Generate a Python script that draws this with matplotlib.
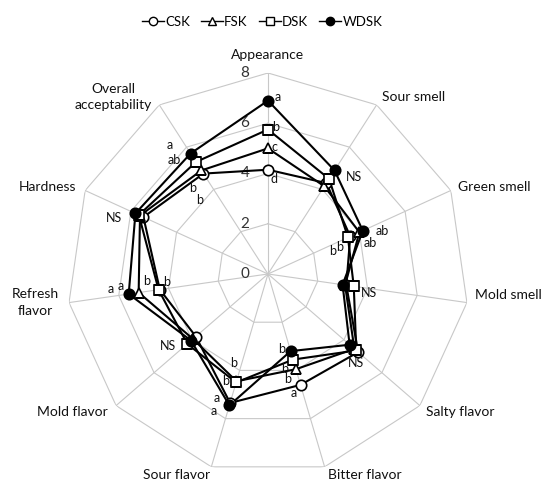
import numpy as np
import matplotlib
matplotlib.use("Agg")
import matplotlib.pyplot as plt
from matplotlib.lines import Line2D

plt.rcParams['font.family'] = ['Lato', 'DejaVu Sans']

categories = ["Appearance", "Sour smell", "Green smell", "Mold smell", "Salty flavor",
              "Bitter flavor", "Sour flavor", "Mold flavor", "Refresh\nflavor", "Hardness",
              "Overall\nacceptability"]
series_names = ["CSK", "FSK", "DSK", "WDSK"]
csk = [4.15, 4.3, 3.6, 3.15, 4.75, 4.6, 5.35, 3.8, 4.35, 5.45, 4.75]
fsk = [5.0, 4.15, 4.0, 3.1, 4.55, 3.95, 4.45, 3.95, 5.2, 5.6, 4.9]
dsk = [5.75, 4.5, 3.5, 3.45, 4.65, 3.55, 4.5, 4.25, 4.4, 5.65, 5.3]
wdsk = [6.9, 4.9, 4.15, 3.0, 4.3, 3.2, 5.45, 4.05, 5.6, 5.8, 5.7]
ring_ticks = [0, 2, 4, 6, 8]

# significance letters per series (None = no letter)
csk_sig = ["d", None, "b", None, "NS", "a", "a", None, "b", None, "b"]
fsk_sig = ["c", None, "ab", None, None, "b", "b", None, "a", None, "b"]
dsk_sig = ["b", None, "b", "NS", None, "b", "b", "NS", "b", None, "ab"]
wdsk_sig = ["a", "NS", "ab", None, None, "b", "a", None, "a", "NS", "a"]

# label offsets in pixels, relative to the point
csk_off = [(6, -9), None, (-18, -15), None, (-2, -11), (-7, -8), (-16, -8), None, (-13, 9), None, (-4, -26)]
fsk_off = [(7, 1), None, (11, -11), None, None, (-8, -10), (-3, 18), None, (-18, 7), None, (-9, -18)]
dsk_off = [(8, 3), None, (-8, -10), (15, -7), None, (-8, -9), (-10, 1), (-19, -2), (8, 8), None, (-22, 2)]
wdsk_off = [(10, 4), (19, -7), (19, 0), None, None, (-9, 2), (-13, 7), None, (-18, 5), (-21, -5), (-21, 9)]

# category label offsets from outer vertex (pixels) and alignment
cat_off = [(0, 18, "center"), (5, 8, "left"), (7, 3, "left"), (8, 8, "left"), (6, -6, "left"),
           (3, -8, "left"), (-1, -8, "right"), (-8, -6, "right"), (-10, 0, "right"),
           (-9, 3, "right"), (-7, 8, "right")]

n = len(categories)
angles = np.linspace(0, 2 * np.pi, n, endpoint=False)
ang_closed = np.append(angles, angles[0])

fig = plt.figure(figsize=(5.45, 4.83), dpi=100)
ax = fig.add_axes([0.1229, 0.0166, 0.7376, 0.8323], projection="polar")
ax.set_theta_offset(np.pi / 2)
ax.set_theta_direction(-1)
ax.set_ylim(0, 8)
ax.grid(False)
ax.spines["polar"].set_visible(False)
ax.set_xticks([])
ax.set_yticks([])
ax.patch.set_alpha(0)

grid_color = "#c8c8c8"
for r in ring_ticks[1:]:
    ax.plot(ang_closed, [r] * (n + 1), color=grid_color, lw=0.8, zorder=1)
for a in angles:
    ax.plot([a, a], [0, 8], color=grid_color, lw=0.8, zorder=1)

for r in ring_ticks:
    ax.annotate(str(r), (0, r), xytext=(-23, 0), textcoords="offset pixels",
                ha="center", va="center", fontsize=11, color="#333333", zorder=2)

for i, cat in enumerate(categories):
    dx, dy, ha = cat_off[i]
    ax.annotate(cat, (angles[i], 8), xytext=(dx, dy), textcoords="offset pixels",
                ha=ha, va="center", multialignment="center", fontsize=10,
                linespacing=1.45, color="#111111", annotation_clip=False)

styles = {
    "CSK": dict(marker="o", mfc="white"),
    "FSK": dict(marker="^", mfc="white"),
    "DSK": dict(marker="s", mfc="white"),
    "WDSK": dict(marker="o", mfc="black"),
}
data = [(csk, csk_sig, csk_off), (fsk, fsk_sig, fsk_off), (dsk, dsk_sig, dsk_off), (wdsk, wdsk_sig, wdsk_off)]

handles = []
for name, (vals, sig, off) in zip(series_names, data):
    st = styles[name]
    v = np.append(vals, vals[0])
    ax.plot(ang_closed, v, color="black", lw=1.5, zorder=3)
    ax.plot(angles, vals, ls="none", marker=st["marker"], ms=7.5, mfc=st["mfc"],
            mec="black", mew=1.2, zorder=4)
    for i in range(n):
        if sig[i] is not None:
            ax.annotate(sig[i], (angles[i], vals[i]), xytext=off[i], textcoords="offset pixels",
                        ha="center", va="center", fontsize=9, color="#111111", zorder=5)
    handles.append(Line2D([], [], color="black", lw=1.0, marker=st["marker"], ms=6,
                          mfc=st["mfc"], mec="black", mew=1.0))

fig.legend(handles, series_names, loc="center", bbox_to_anchor=(262 / 545, 1 - 22 / 483),
           ncol=4, frameon=False, handlelength=1.67, handletextpad=0.1, columnspacing=0.83,
           fontsize=9.5)

fig.savefig("out.png", dpi=100)
